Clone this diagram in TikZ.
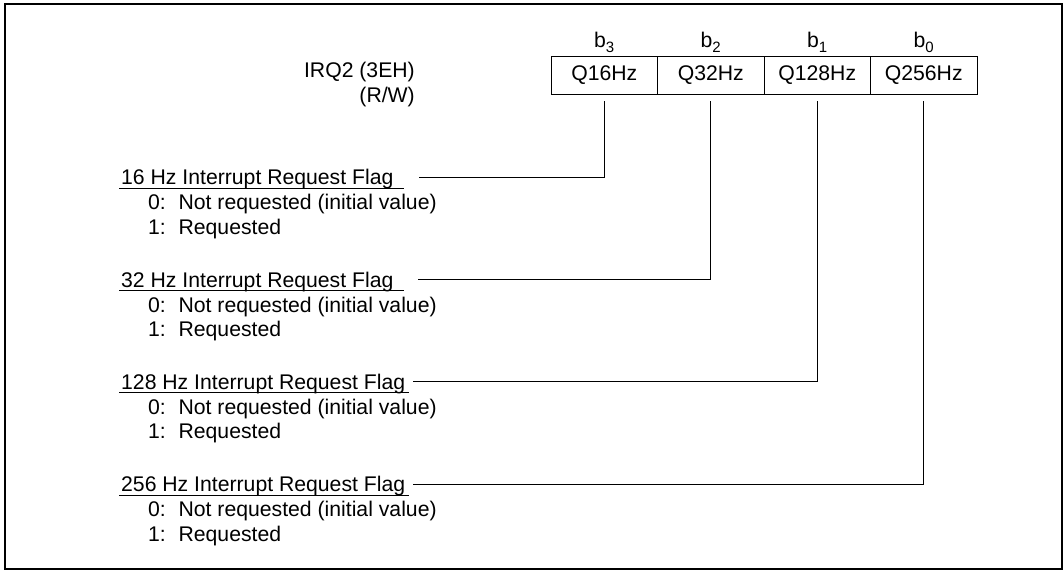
\documentclass[tikz,border=0pt]{standalone}
\usepackage{fontspec}
\setmainfont{Liberation Sans}
\begin{document}
\begin{tikzpicture}[x=1pt,y=-1pt,
  every node/.style={font=\fontsize{21.2}{25}\selectfont, inner sep=0pt},
  cell/.style={draw, line width=1pt, minimum width=106.5pt, minimum height=38pt},
  bitlbl/.style={anchor=base},
  title/.style={anchor=base west},
  opt/.style={anchor=base west},
  rule/.style={line width=1pt},
  leader/.style={line width=1pt}]
\useasboundingbox (0,0) rectangle (1063,571);
\draw[line width=1.3pt] (5,4) rectangle (1062,569);
% register
\node[cell] (c3) at (604.25,75) {Q16Hz};
\node[cell] (c2) at (710.75,75) {Q32Hz};
\node[cell] (c1) at (817.25,75) {Q128Hz};
\node[cell] (c0) at (923.75,75) {Q256Hz};
\node[bitlbl] (b3) at (604.25,47.5) {b\raisebox{-0.22em}{\fontsize{15}{15}\selectfont 3}};
\node[bitlbl] (b2) at (710.75,47.5) {b\raisebox{-0.22em}{\fontsize{15}{15}\selectfont 2}};
\node[bitlbl] (b1) at (817.25,47.5) {b\raisebox{-0.22em}{\fontsize{15}{15}\selectfont 1}};
\node[bitlbl] (b0) at (923.75,47.5) {b\raisebox{-0.22em}{\fontsize{15}{15}\selectfont 0}};
\node[anchor=base east] (irq) at (415,77) {IRQ2 (3EH)};
\node[anchor=base east] (rw) at (415,102) {(R/W)};
% 16 Hz
\node[title] (t3) at (121,184.5) {16 Hz Interrupt Request Flag};
\node[opt] (z3) at (148,209.5) {0:\hspace{0.6em}Not requested (initial value)};
\node[opt] (o3) at (148,234) {1:\hspace{0.6em}Requested};
\coordinate (u3a) at (119,188); \coordinate (u3b) at (404,188);
\draw[rule] (u3a) -- (u3b);
\coordinate (l3) at (419,177);
\draw[leader] (l3) -| ([yshift=-6pt]c3.south);
% 32 Hz
\node[title] (t2) at (121,287) {32 Hz Interrupt Request Flag};
\node[opt] (z2) at (148,312) {0:\hspace{0.6em}Not requested (initial value)};
\node[opt] (o2) at (148,336.5) {1:\hspace{0.6em}Requested};
\coordinate (u2a) at (119,290.5); \coordinate (u2b) at (404,290.5);
\draw[rule] (u2a) -- (u2b);
\coordinate (l2) at (418,279.5);
\draw[leader] (l2) -| ([yshift=-6pt]c2.south);
% 128 Hz
\node[title] (t1) at (121,389) {128 Hz Interrupt Request Flag};
\node[opt] (z1) at (148,414) {0:\hspace{0.6em}Not requested (initial value)};
\node[opt] (o1) at (148,438.5) {1:\hspace{0.6em}Requested};
\coordinate (u1a) at (119,392.5); \coordinate (u1b) at (409,392.5);
\draw[rule] (u1a) -- (u1b);
\coordinate (l1) at (413,381.5);
\draw[leader] (l1) -| ([yshift=-6pt]c1.south);
% 256 Hz
\node[title] (t0) at (121,491.5) {256 Hz Interrupt Request Flag};
\node[opt] (z0) at (148,516.5) {0:\hspace{0.6em}Not requested (initial value)};
\node[opt] (o0) at (148,541) {1:\hspace{0.6em}Requested};
\coordinate (u0a) at (119,495); \coordinate (u0b) at (409,495);
\draw[rule] (u0a) -- (u0b);
\coordinate (l0) at (413,484);
\draw[leader] (l0) -| ([yshift=-6pt]c0.south);
\end{tikzpicture}
\end{document}
